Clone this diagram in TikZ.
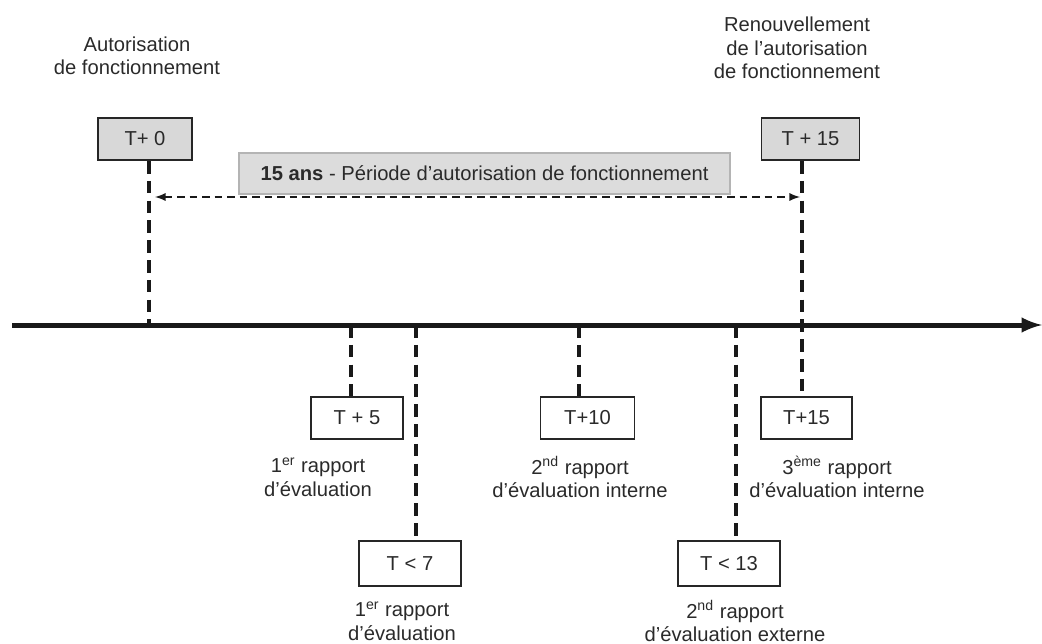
\documentclass[tikz,border=0pt]{standalone}
\usepackage{fontspec}
\setmainfont{Liberation Sans}
\usetikzlibrary{positioning}

\definecolor{boxgray}{HTML}{D8D8D8}
\definecolor{bargray}{HTML}{DCDCDC}
\definecolor{barline}{HTML}{B4B4B4}
\definecolor{textgray}{HTML}{2A2A2A}

\begin{document}
\begin{tikzpicture}[x=0.52pt, y=-0.52pt]
    % Setup the styles
    \tikzset{date style/.style={draw=black!85, line width=0.9pt,
                                minimum width=49pt, minimum height=22pt,
                                inner sep=0pt, text=textgray,
                                font=\fontsize{10.5}{12.2}\selectfont},
             gray date/.style={date style, fill=boxgray},
             label style/.style={align=center, text=textgray,
                                 font=\fontsize{10.5}{12.2}\selectfont},
             tick line/.style={draw=black!90, line width=1.8pt,
                               dash pattern=on 6.5pt off 3.8pt},
             >=latex}
    \useasboundingbox (0,0) rectangle (1042,644);

    % Draw the time axis
    \coordinate (axis start) at (12,325);
    \coordinate (axis end)   at (1042,325);
    \draw[line width=2.6pt, black!90, ->] (axis start) -- (axis end);

    % Points on the axis
    \coordinate (tick0)  at (149,325);
    \coordinate (tick5)  at (351,325);
    \coordinate (tick7)  at (416,325);
    \coordinate (tick10) at (579,325);
    \coordinate (tick13) at (736,325);
    \coordinate (tick15) at (802,325);

    % Top boxes and labels
    \node[gray date, minimum width=49pt] at (145,139)   (t0)     {T+ 0};
    \node[gray date, minimum width=51pt] at (810.5,139) (t15top) {T + 15};
    \node[label style] at (137,56)  (auto)  {Autorisation\\de fonctionnement};
    \node[label style] at (797,48)  (renew) {Renouvellement\\de l’autorisation\\de fonctionnement};

    % Period bar
    \node[draw=barline, line width=1pt, fill=bargray, minimum width=255pt,
          minimum height=21pt, text=textgray, font=\fontsize{10.5}{12.2}\selectfont]
        at (484.5,173.5) (period) {\textbf{15 ans} - Période d’autorisation de fonctionnement};
    \coordinate (arrow left)  at (155,197);
    \coordinate (arrow right) at (800,197);
    \draw[<->, line width=0.9pt, black!90, dash pattern=on 4pt off 2.5pt]
        (arrow left) -- (arrow right);

    % Bottom boxes
    \node[date style, minimum width=48pt] at (357,418)   (t5)     {T + 5};
    \node[date style, minimum width=53pt, minimum height=23.5pt] at (410,563.5) (t7)  {T < 7};
    \node[date style, minimum width=49pt] at (587.5,418) (t10)    {T+10};
    \node[date style, minimum width=53pt, minimum height=23.5pt] at (729,563.5) (t13) {T < 13};
    \node[date style, minimum width=47pt] at (806.5,418) (t15bot) {T+15};

    % Bottom labels
    \node[label style] at (318,477) (rep5)  {1\textsuperscript{er} rapport\\d’évaluation};
    \node[label style] at (402,621) (rep7)  {1\textsuperscript{er} rapport\\d’évaluation};
    \node[label style] at (580,477) (rep10) {2\textsuperscript{nd} rapport\\d’évaluation interne};
    \node[label style] at (735,621) (rep13) {2\textsuperscript{nd} rapport\\d’évaluation externe};
    \node[label style] at (837,477) (rep15) {3\textsuperscript{ème} rapport\\d’évaluation interne};

    % Connect the boxes with the axis
    \draw[tick line] (tick0 |- t0.south) -- (tick0);
    \draw[tick line] (tick15 |- t15top.south) -- (tick15 |- t15bot.north);
    \draw[tick line] (tick5)  -- (tick5 |- t5.north);
    \draw[tick line] (tick7)  -- (tick7 |- t7.north);
    \draw[tick line] (tick10) -- (tick10 |- t10.north);
    \draw[tick line] (tick13) -- (tick13 |- t13.north);
\end{tikzpicture}
\end{document}
